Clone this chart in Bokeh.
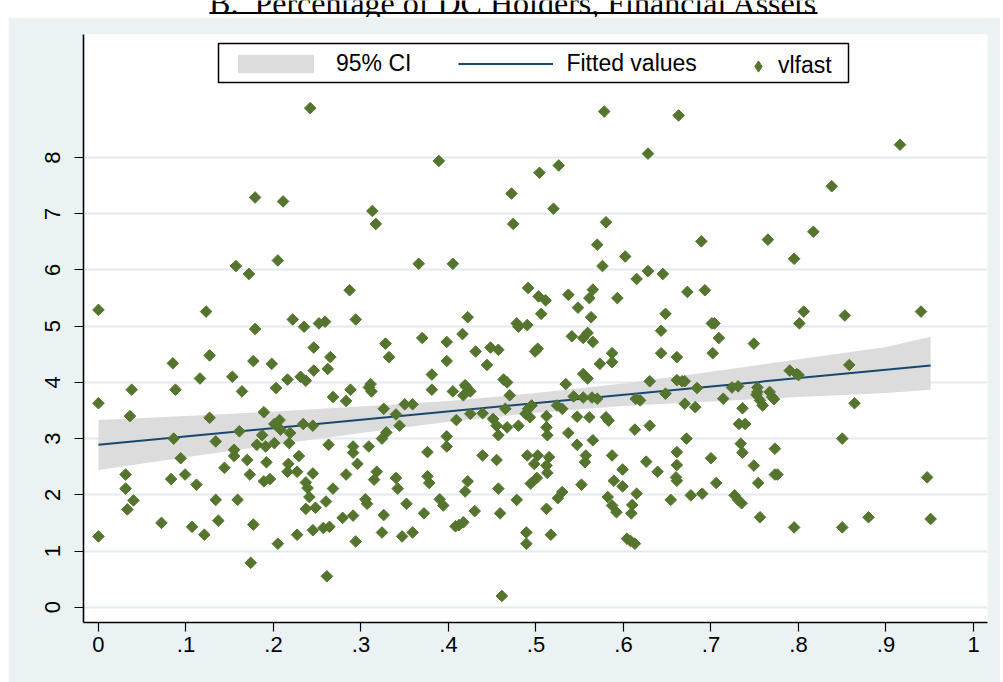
from math import pi

from bokeh.embed import file_html
from bokeh.layouts import column
from bokeh.models import (BoxAnnotation, FixedTicker, Label, Legend,
                          LegendItem, Range1d)
from bokeh.plotting import figure
from bokeh.resources import INLINE

# ---------------------------------------------------------------- data
# share of DC holders (x) and vlfast (y), one entry per observation
share_x = [
    0.242, 0.179, 0.211, 0.313, 0.317, 0.157, 0.172, 0.205, 0.287, 0.000,
    0.123, 0.222, 0.235, 0.252, 0.259, 0.294, 0.179, 0.127, 0.246, 0.265,
    0.328, 0.332, 0.085, 0.177, 0.198,
    0.000, 0.000, 0.038, 0.036, 0.031, 0.031, 0.040, 0.033, 0.072, 0.088,
    0.086, 0.094, 0.083, 0.099, 0.116, 0.127, 0.112, 0.107, 0.121, 0.134,
    0.144, 0.134, 0.137, 0.153, 0.164, 0.161, 0.155, 0.155, 0.170, 0.173,
    0.159, 0.177, 0.174, 0.189, 0.187, 0.181, 0.191, 0.192, 0.189, 0.196,
    0.203, 0.216, 0.201, 0.207, 0.208, 0.201, 0.219, 0.218, 0.217, 0.216,
    0.227, 0.229, 0.205, 0.227, 0.231, 0.237, 0.246, 0.234, 0.245, 0.237,
    0.239, 0.241, 0.237, 0.248, 0.245, 0.245, 0.261, 0.257, 0.264, 0.260,
    0.268, 0.263, 0.268, 0.262, 0.283, 0.288, 0.291, 0.291, 0.296, 0.283,
    0.279, 0.291, 0.294, 0.305, 0.307, 0.309, 0.309, 0.311, 0.312, 0.318,
    0.315, 0.326, 0.324, 0.329, 0.326, 0.324,
    0.381, 0.381, 0.340, 0.344, 0.350, 0.359, 0.398, 0.398, 0.409, 0.405,
    0.417, 0.421, 0.425, 0.419, 0.425, 0.439, 0.376, 0.340, 0.342, 0.376,
    0.378, 0.352, 0.347, 0.359, 0.372, 0.390, 0.394, 0.408, 0.417, 0.412,
    0.422, 0.419, 0.430, 0.439, 0.455, 0.457, 0.459, 0.461, 0.451, 0.455,
    0.457, 0.465, 0.467, 0.463, 0.467, 0.470, 0.480, 0.478, 0.489, 0.489,
    0.490, 0.498, 0.502, 0.494, 0.501, 0.488, 0.491, 0.495, 0.493, 0.512,
    0.512, 0.513, 0.515, 0.512, 0.513, 0.512, 0.517, 0.524, 0.530, 0.525,
    0.530, 0.534, 0.537, 0.543, 0.547, 0.547, 0.552, 0.554, 0.559, 0.554,
    0.564, 0.561, 0.565, 0.557, 0.556, 0.570, 0.580, 0.583, 0.587, 0.589,
    0.599, 0.599, 0.582, 0.587, 0.592, 0.604, 0.608, 0.613, 0.610, 0.609,
    0.615, 0.613, 0.614, 0.619, 0.630, 0.626, 0.639, 0.630, 0.648, 0.661,
    0.667, 0.661, 0.661, 0.660, 0.661, 0.654,
    0.578, 0.663, 0.389, 0.504, 0.526, 0.628, 0.472, 0.520, 0.474, 0.580,
    0.570, 0.366, 0.405, 0.576, 0.602, 0.615, 0.628, 0.645, 0.673, 0.491,
    0.503, 0.511, 0.537, 0.548, 0.561, 0.565, 0.563, 0.593, 0.648, 0.643,
    0.643, 0.661, 0.370, 0.398, 0.398, 0.416, 0.422, 0.431, 0.444, 0.448,
    0.457, 0.478, 0.480, 0.490, 0.499, 0.502, 0.506, 0.541, 0.554, 0.559,
    0.565, 0.573, 0.587, 0.587,
    0.916, 0.838, 0.817, 0.689, 0.765, 0.795, 0.693, 0.701, 0.704, 0.709,
    0.702, 0.749, 0.806, 0.801, 0.853, 0.940,
    0.670, 0.684, 0.670, 0.682, 0.672, 0.677, 0.690, 0.700, 0.706, 0.714,
    0.724, 0.731, 0.736, 0.732, 0.739, 0.734, 0.736, 0.749, 0.754, 0.727,
    0.731, 0.735, 0.756, 0.753, 0.753, 0.752, 0.756, 0.759, 0.767, 0.770,
    0.772, 0.773, 0.773, 0.776, 0.790, 0.798, 0.800, 0.795, 0.858, 0.864,
    0.850, 0.850, 0.880, 0.947, 0.951,
]
vlfast = [
    8.88, 7.29, 7.22, 7.05, 6.82, 6.07, 5.93, 6.17, 5.64, 5.29,
    5.26, 5.12, 4.99, 5.05, 5.08, 5.12, 4.95, 4.48, 4.62, 4.45,
    4.69, 4.45, 4.34, 4.38, 4.33,
    3.63, 1.26, 3.87, 3.40, 2.36, 2.11, 1.90, 1.74, 1.50, 3.87,
    3.00, 2.65, 2.28, 2.36, 4.07, 3.37, 2.18, 1.43, 1.29, 2.95,
    2.48, 1.91, 1.54, 4.10, 3.84, 3.13, 2.80, 2.69, 2.62, 2.36,
    1.91, 1.47, 0.79, 3.47, 3.06, 2.89, 2.86, 2.58, 2.24, 2.28,
    3.90, 4.05, 3.26, 3.33, 3.16, 2.92, 3.10, 2.92, 2.55, 2.41,
    2.41, 2.69, 1.13, 1.29, 4.10, 4.03, 4.21, 3.26, 3.23, 2.22,
    2.12, 1.96, 1.75, 1.77, 2.38, 1.37, 0.55, 1.41, 1.43, 1.88,
    2.11, 2.89, 3.74, 4.24, 3.67, 3.87, 2.86, 2.75, 2.55, 2.36,
    1.59, 1.63, 1.17, 1.92, 1.84, 2.86, 3.91, 3.97, 3.84, 2.41,
    2.27, 3.53, 3.00, 3.11, 1.64, 1.33,
    4.14, 3.87, 3.43, 3.23, 3.61, 3.61, 3.04, 2.86, 3.33, 3.84,
    3.77, 3.91, 3.84, 3.95, 3.44, 3.45, 2.76, 2.30, 2.11, 2.33,
    2.21, 1.84, 1.26, 1.33, 1.67, 1.92, 1.81, 1.44, 1.51, 1.46,
    2.24, 2.06, 1.71, 2.70, 2.62, 2.11, 1.67, 0.20, 3.35, 3.23,
    3.06, 3.53, 3.20, 4.05, 4.00, 3.77, 3.23, 1.91, 1.33, 1.13,
    2.70, 2.55, 2.70, 2.20, 2.30, 3.44, 3.53, 3.59, 3.38, 3.40,
    3.20, 3.06, 2.67, 2.52, 2.39, 1.75, 1.29, 3.59, 3.53, 1.94,
    2.05, 3.97, 3.10, 3.75, 3.39, 2.89, 2.18, 4.15, 4.07, 3.73,
    3.73, 3.38, 2.97, 2.70, 2.58, 3.71, 3.38, 3.32, 2.70, 2.25,
    2.45, 2.15, 1.96, 1.81, 1.69, 1.22, 1.18, 1.13, 1.82, 1.67,
    2.02, 3.16, 3.71, 3.68, 3.23, 2.59, 2.41, 4.02, 3.80, 4.04,
    4.02, 2.76, 2.53, 2.31, 2.25, 1.91,
    8.82, 8.75, 7.94, 7.73, 7.86, 8.07, 7.36, 7.09, 6.82, 6.85,
    6.45, 6.11, 6.11, 6.07, 6.24, 5.84, 5.98, 5.93, 5.61, 5.68,
    5.53, 5.46, 5.56, 5.33, 5.50, 5.65, 5.16, 5.50, 5.22, 4.92,
    4.52, 4.45, 4.79, 4.72, 4.38, 4.86, 5.16, 4.55, 4.31, 4.62,
    4.58, 5.05, 4.99, 5.02, 4.55, 4.60, 5.22, 4.82, 4.79, 4.88,
    4.72, 4.33, 4.52, 4.36,
    8.23, 7.49, 6.68, 6.51, 6.54, 6.20, 5.64, 5.05, 5.05, 4.79,
    4.52, 4.69, 5.26, 5.05, 5.19, 5.26,
    4.02, 3.90, 3.62, 3.56, 3.00, 1.99, 2.02, 2.65, 2.21, 3.71,
    3.91, 3.93, 3.54, 3.26, 3.26, 2.91, 2.75, 2.52, 2.21, 1.99,
    1.91, 1.85, 1.60, 3.91, 3.83, 3.78, 3.68, 3.59, 3.83, 3.74,
    3.70, 2.82, 2.36, 2.36, 4.21, 4.15, 4.13, 1.42, 4.31, 3.63,
    3.00, 1.42, 1.60, 2.31, 1.57,
]

# linear fit and its 95% confidence band
fit_x = [0.0, 0.951]
fit_y = [2.89, 4.30]
ci_x = [0.0, 0.1, 0.2, 0.3, 0.4, 0.5, 0.6, 0.7, 0.8, 0.9, 0.951]
ci_lower = [2.44, 2.67, 2.89, 3.10, 3.30, 3.46, 3.58, 3.66, 3.74, 3.81, 3.87]
ci_upper = [3.33, 3.40, 3.48, 3.57, 3.67, 3.81, 3.98, 4.19, 4.41, 4.63, 4.81]

# axis ticks
x_ticks = [0.0, 0.1, 0.2, 0.3, 0.4, 0.5, 0.6, 0.7, 0.8, 0.9, 1.0]
x_tick_labels = ["0", ".1", ".2", ".3", ".4", ".5", ".6", ".7", ".8", ".9", "1"]
y_ticks = [0, 1, 2, 3, 4, 5, 6, 7, 8]

# ---------------------------------------------------------------- styling
REGION_BG = "#eaf2f3"
GRID = "#e1eaed"
BAND = "#dcdcdc"
NAVY = "#1a476f"
GREEN = "#55752f"
SANS = "Liberation Sans"

# ---------------------------------------------------------------- heading strip
head = figure(width=1003, height=17, title=None, output_backend="svg",
              toolbar_location=None, x_axis_type=None, y_axis_type=None,
              x_range=Range1d(0, 1), y_range=Range1d(0, 1), min_border=0,
              outline_line_color=None, border_fill_color="white",
              background_fill_color="white")
head.grid.visible = False
head.add_layout(Label(x=513, y=2, x_units="canvas", y_units="canvas",
                      text="B.\u00a0 Percentage of DC Holders, Financial Assets",
                      text_font="Liberation Serif", text_font_size="32px",
                      text_color="black", text_align="center",
                      text_baseline="alphabetic"))
head.add_layout(BoxAnnotation(left=209, right=817, top=11.5, bottom=13.5,
                              left_units="canvas", right_units="canvas",
                              top_units="canvas", bottom_units="canvas",
                              fill_color="black", fill_alpha=1,
                              line_color=None))

# ---------------------------------------------------------------- main chart
p = figure(width=992, height=665, title=None, output_backend="svg",
           toolbar_location=None,
           x_range=Range1d(-0.0171, 1.016), y_range=Range1d(-0.272, 10.19),
           min_border_left=75, min_border_right=13, min_border_top=17,
           min_border_bottom=60, outline_line_color=None,
           background_fill_color="white", border_fill_color=REGION_BG)
p.margin = (0, 3, 0, 8)

band = p.varea(x=ci_x, y1=ci_lower, y2=ci_upper, fill_color=BAND)
fit = p.line(x=fit_x, y=fit_y, line_color=NAVY, line_width=2)
# small diamond under the first observation; it supplies the legend key
dot_key = p.scatter(x=share_x[:1], y=vlfast[:1], marker="diamond", size=6,
                    fill_color=GREEN, line_color=GREEN)
dots = p.scatter(x=share_x, y=vlfast, marker="square", size=8.2, angle=pi / 4,
                 fill_color=GREEN, line_color=GREEN, line_width=1)

p.xgrid.visible = False
p.ygrid.grid_line_color = GRID
p.ygrid.grid_line_width = 2

for ax in (p.xaxis[0], p.yaxis[0]):
    ax.axis_line_color = "black"
    ax.axis_line_width = 1.6
    ax.major_tick_line_color = "black"
    ax.major_tick_line_width = 1.2
    ax.major_tick_out = 9
    ax.major_tick_in = 0
    ax.minor_tick_line_color = None
    ax.major_label_text_font = SANS
    ax.major_label_text_font_size = "22px"
    ax.major_label_text_color = "black"

p.xaxis.ticker = FixedTicker(ticks=x_ticks)
p.xaxis.major_label_overrides = dict(zip(x_ticks, x_tick_labels))
p.xaxis.major_label_standoff = 5

p.yaxis.ticker = FixedTicker(ticks=y_ticks)
p.yaxis.major_label_orientation = "parallel"
p.yaxis.major_label_standoff = 14

# legend frame, then the keys drawn over it
p.add_layout(BoxAnnotation(left=210, right=840, top=26, bottom=65,
                           left_units="canvas", right_units="canvas",
                           top_units="canvas", bottom_units="canvas",
                           fill_color="white", fill_alpha=1,
                           line_color="black", line_width=1.5, line_alpha=1))

legend_text = dict(label_text_font=SANS, label_text_font_size="23px",
                   label_text_color="black", border_line_color=None,
                   background_fill_alpha=0, padding=0, margin=0,
                   orientation="horizontal")

key_fit = Legend(items=[LegendItem(label="95% CI", renderers=[band]),
                        LegendItem(label="Fitted values", renderers=[fit])],
                 location=(145, 545), glyph_width=95, glyph_height=23,
                 label_height=23, label_standoff=13, spacing=47, **legend_text)
key_dots = Legend(items=[LegendItem(label="vlfast", renderers=[dot_key])],
                  location=(661, 542.5), glyph_width=28, glyph_height=28,
                  label_height=28, label_standoff=6, spacing=0, **legend_text)
p.add_layout(key_fit)
p.add_layout(key_dots)

page = column(head, p, spacing=0)

with open("out.html", "w") as fh:
    fh.write(file_html(page, INLINE))
